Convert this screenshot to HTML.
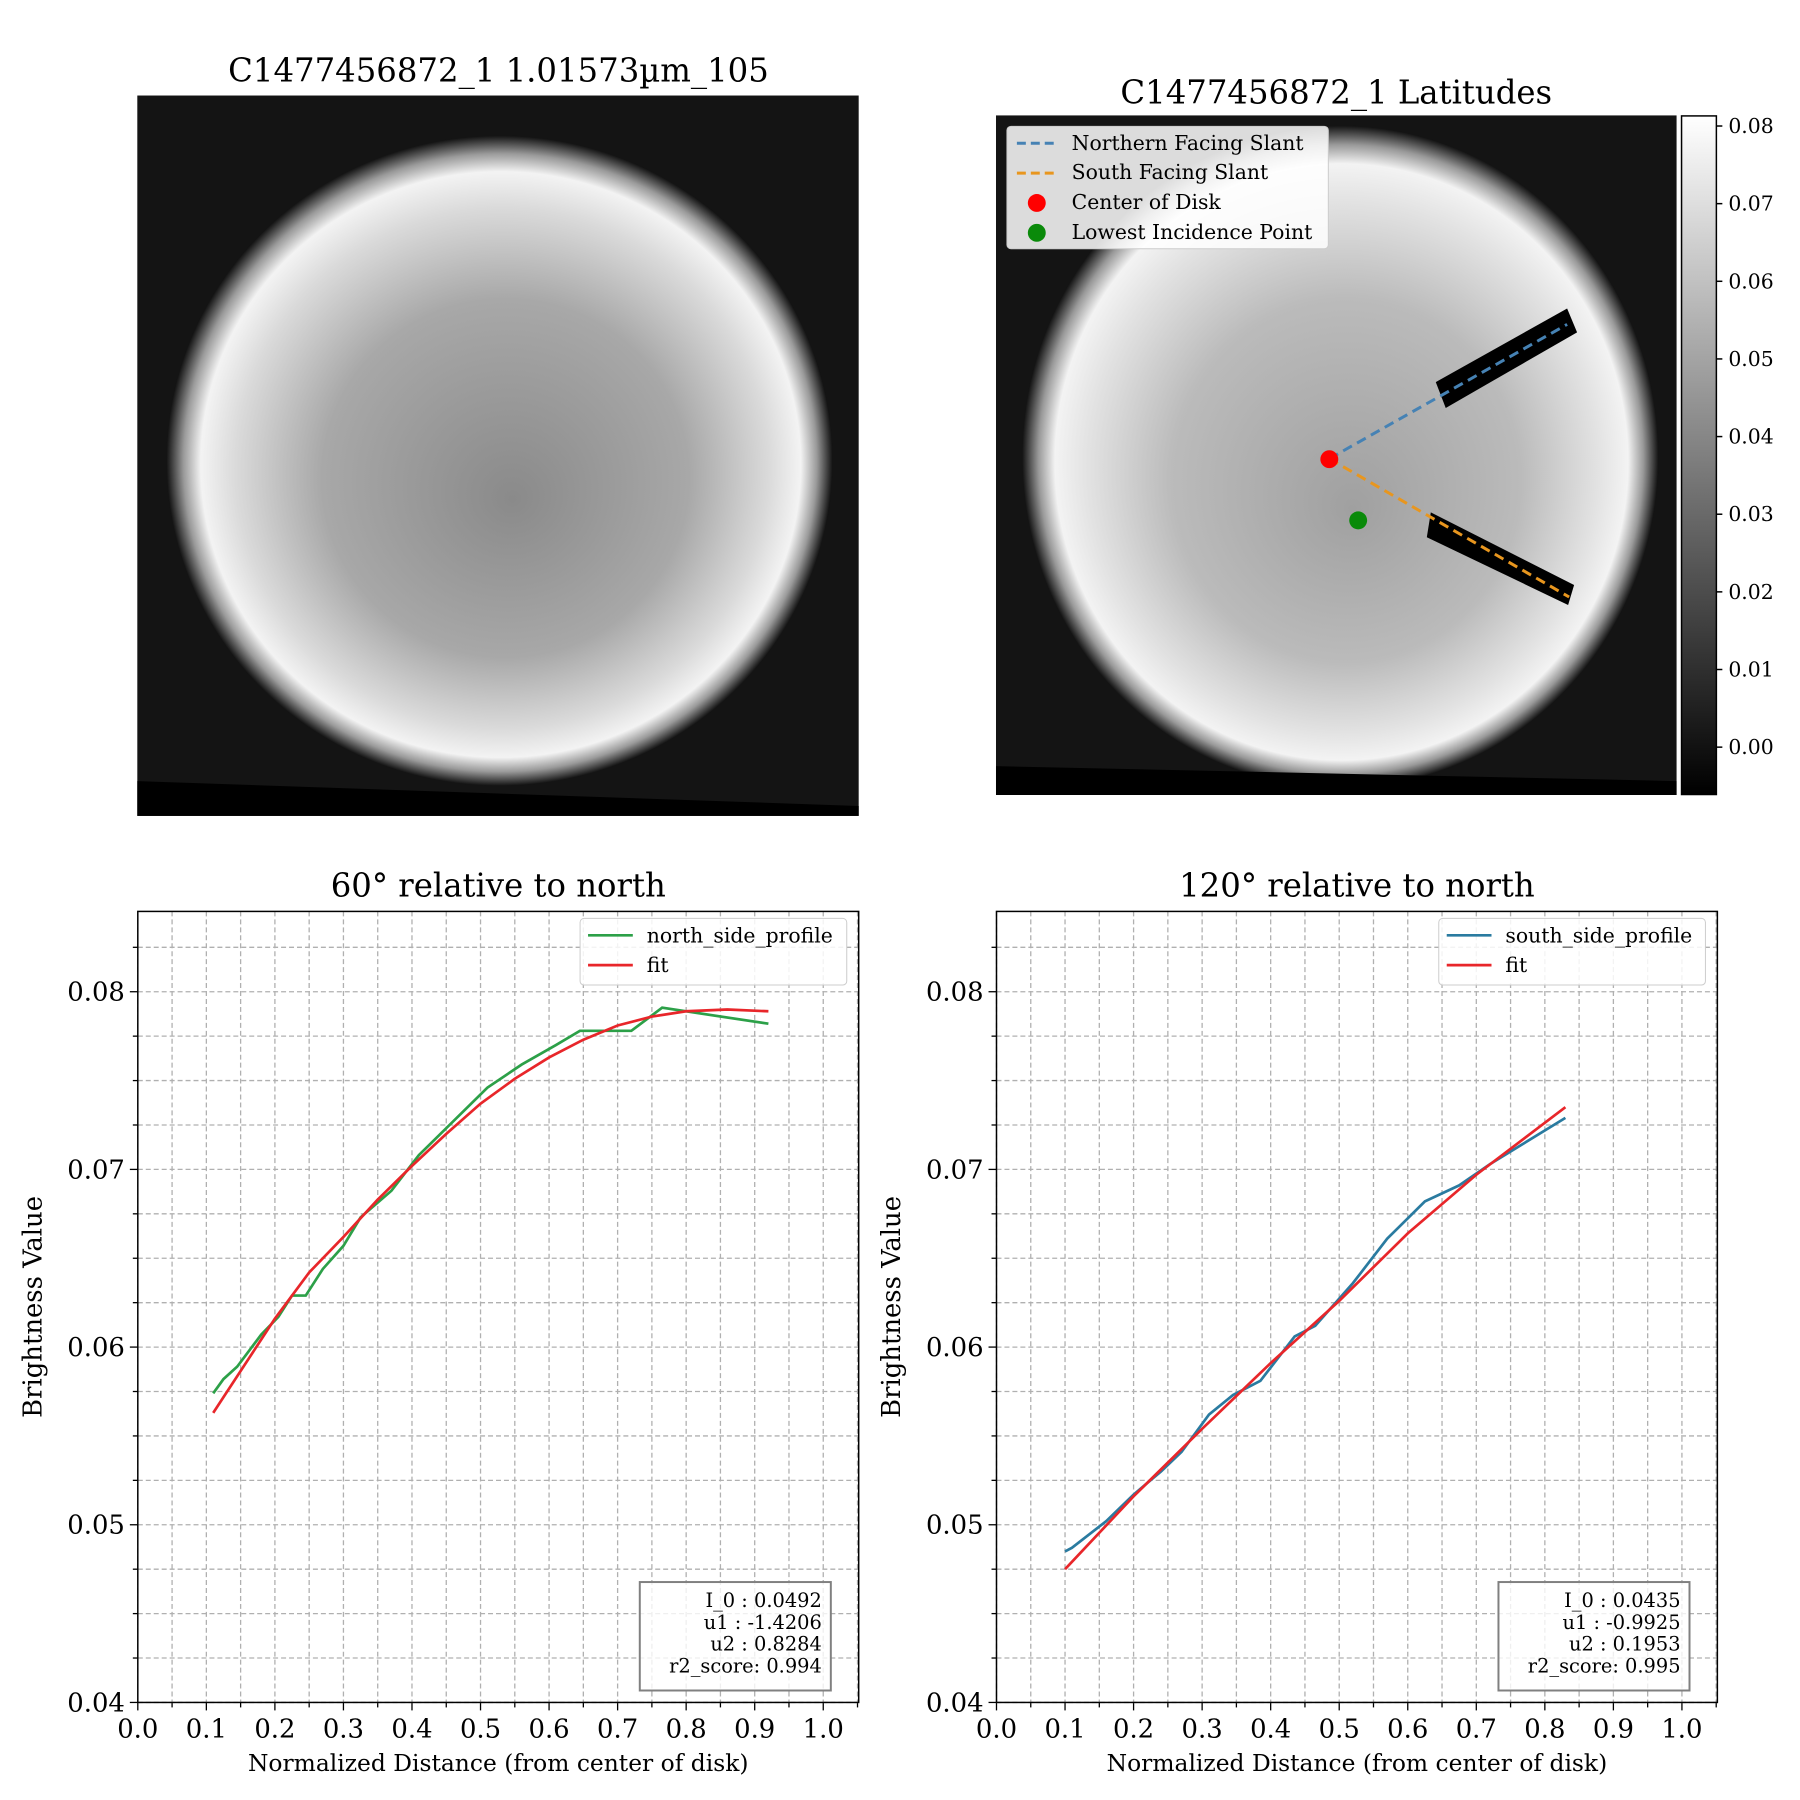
<!DOCTYPE html>
<html><head><meta charset="utf-8"><style>
body{margin:0;background:#fff}
svg{display:block;font-family:"DejaVu Serif","Liberation Serif",serif}
</style></head><body>
<svg id="s" width="1800" height="1800" viewBox="0 0 1800 1800" xmlns="http://www.w3.org/2000/svg">
<defs>
<radialGradient id="disk1" cx="0.5" cy="0.5" r="0.5" fx="0.52" fy="0.56">
<stop offset="0" stop-color="#8a8a8a"/><stop offset="0.55" stop-color="#a8a8a8"/><stop offset="0.8" stop-color="#dadada"/><stop offset="0.9" stop-color="#f3f3f3"/><stop offset="0.95" stop-color="#9a9a9a"/><stop offset="1" stop-color="#111"/>
</radialGradient>
<radialGradient id="disk2" cx="0.5" cy="0.5" r="0.5" fx="0.52" fy="0.58">
<stop offset="0" stop-color="#a0a0a0"/><stop offset="0.55" stop-color="#bbbbbb"/><stop offset="0.8" stop-color="#e2e2e2"/><stop offset="0.9" stop-color="#f3f3f3"/><stop offset="0.95" stop-color="#999"/><stop offset="1" stop-color="#111"/>
</radialGradient>
<linearGradient id="cbar" x1="0" y1="1" x2="0" y2="0"><stop offset="0" stop-color="#000"/><stop offset="1" stop-color="#fff"/></linearGradient>
</defs>
<g transform="scale(0.995)">
<text x="501" y="82" font-size="32.5" text-anchor="middle">C1477456872_1 1.01573µm_105</text>
<g>
<rect x="138" y="96" width="725" height="724" fill="#141414"/>
<ellipse cx="502" cy="463" rx="335" ry="327" fill="url(#disk1)"/>
<polygon points="138,785 863,810 863,820 138,820" fill="#000"/>
</g>
<text x="1343" y="104" font-size="32.5" text-anchor="middle">C1477456872_1 Latitudes</text>
<g>
<rect x="1001" y="116" width="684" height="683" fill="#141414"/>
<ellipse cx="1347" cy="459" rx="320" ry="333" fill="url(#disk2)"/>
<polygon points="1001,770 1685,785 1685,799 1001,799" fill="#000"/>
<path d="M1443,384 L1575,310 L1585,334 L1453,410 Z" fill="#000"/>
<path d="M1438,515 L1582,588 L1576,608 L1434,540 Z" fill="#000"/>
<line x1="1336" y1="461" x2="1575" y2="326" stroke="#4682b4" stroke-width="3" stroke-dasharray="10,6"/>
<line x1="1336" y1="461" x2="1577" y2="600" stroke="#e8961e" stroke-width="3" stroke-dasharray="10,6"/>
<circle cx="1336" cy="461.5" r="9" fill="#ff0000"/>
<circle cx="1365" cy="523" r="9" fill="#0a8a0a"/>
</g>
<g>
<rect x="1012" y="127" width="323" height="123" rx="4" fill="#fff" fill-opacity="0.85" stroke="#ccc"/>
<line x1="1022" y1="144" x2="1062" y2="144" stroke="#4682b4" stroke-width="3" stroke-dasharray="9,5"/>
<text x="1077" y="151" font-size="20.5">Northern Facing Slant</text>
<line x1="1022" y1="174" x2="1062" y2="174" stroke="#e8961e" stroke-width="3" stroke-dasharray="9,5"/>
<text x="1077" y="180" font-size="20.5">South Facing Slant</text>
<circle cx="1042" cy="204" r="9" fill="#ff0000"/>
<text x="1077" y="210" font-size="20.5">Center of Disk</text>
<circle cx="1042" cy="234" r="9" fill="#0a8a0a"/>
<text x="1077" y="240" font-size="20.5">Lowest Incidence Point</text>
</g>
<g id="cb">
<rect x="1690" y="116.5" width="35" height="682" fill="url(#cbar)" stroke="#000" stroke-width="1.5"/>
</g>
<g id="charts"></g>
</g>
</svg>
<script>
const NS="http://www.w3.org/2000/svg";
const cbTicks=[0.00,0.01,0.02,0.03,0.04,0.05,0.06,0.07,0.08];
const northX=[0.11,0.125,0.145,0.18,0.205,0.225,0.245,0.27,0.30,0.325,0.37,0.41,0.46,0.51,0.56,0.61,0.645,0.72,0.765,0.92];
const northY=[0.0574,0.0582,0.0589,0.0607,0.0617,0.0629,0.0629,0.0644,0.0657,0.0673,0.0688,0.0708,0.0727,0.0746,0.0759,0.0770,0.0778,0.0778,0.0791,0.0782];
const northFitX=[0.11,0.2,0.25,0.3,0.35,0.4,0.45,0.5,0.55,0.6,0.65,0.7,0.75,0.8,0.86,0.92];
const northFitY=[0.0563,0.0616,0.0642,0.0662,0.0683,0.0702,0.0720,0.0737,0.0751,0.0763,0.0773,0.0781,0.0786,0.0789,0.0790,0.0789];
const southX=[0.10,0.11,0.16,0.20,0.24,0.27,0.31,0.345,0.385,0.435,0.465,0.52,0.57,0.625,0.675,0.72,0.83];
const southY=[0.0485,0.0487,0.0502,0.0517,0.0530,0.0541,0.0562,0.0573,0.0581,0.0606,0.0612,0.0636,0.0661,0.0682,0.0691,0.0703,0.0729];
const southFitX=[0.1,0.2,0.3,0.4,0.5,0.6,0.7,0.83];
const southFitY=[0.0475,0.0516,0.0554,0.0591,0.0626,0.0664,0.0697,0.0735];
const xTicks=[0.0,0.1,0.2,0.3,0.4,0.5,0.6,0.7,0.8,0.9,1.0];
const yTicks=[0.04,0.05,0.06,0.07,0.08];
const northStats=["I_0 : 0.0492","u1 : -1.4206","u2 : 0.8284","r2_score: 0.994"];
const southStats=["I_0 : 0.0435","u1 : -0.9925","u2 : 0.1953","r2_score: 0.995"];

function mk(tag,attrs,parent,txt){const e=document.createElementNS(NS,tag);for(const k in attrs)e.setAttribute(k,attrs[k]);if(txt!==undefined)e.textContent=txt;parent.appendChild(e);return e;}

const cb=document.getElementById('cb');
const cbY=v=>798.5-(v-(-0.0061))/(0.0813+0.0061)*682;
cbTicks.forEach(v=>{
  const y=cbY(v);
  mk('line',{x1:1725,x2:1731,y1:y,y2:y,stroke:'#000','stroke-width':1.5},cb);
  const t=mk('text',{x:1737,y:y+7,'font-size':20.5},cb,v.toFixed(2));
  
  
});

function chart(x0,name,title,xs,ys,color,fx,fy,legendLabel,stats){
  const L=x0,R=x0+724.5,T=916,B=1711;
  const xmin=0,xmax=1.0517,ymin=0.04,ymax=0.08452;
  const sx=v=>L+(v-xmin)/(xmax-xmin)*(R-L);
  const sy=v=>B-(v-ymin)/(ymax-ymin)*(B-T);
  const g=mk('g',{},document.getElementById('charts'));
  
  
  mk('rect',{x:L,y:T,width:R-L,height:B-T,fill:'#fff'},g);
  for(let i=0;i<=21;i++){const v=i*0.05;if(v>xmax)break;const x=sx(v);
    mk('line',{x1:x,x2:x,y1:T,y2:B,stroke:'#b0b0b0','stroke-width':1.3,'stroke-dasharray':'5,3'},g);
    mk('line',{x1:x,x2:x,y1:B,y2:B+(i%2?5:8),stroke:'#000','stroke-width':1.3},g);}
  for(let i=0;i<=18;i++){const v=0.04+i*0.0025;if(v>ymax)break;const y=sy(v);
    mk('line',{x1:L,x2:R,y1:y,y2:y,stroke:'#b0b0b0','stroke-width':1.3,'stroke-dasharray':'5,3'},g);
    mk('line',{x1:L,x2:L-(i%4?5:8),y1:y,y2:y,stroke:'#000','stroke-width':1.3},g);}
  xTicks.forEach(v=>{const t=mk('text',{x:sx(v),y:B+35,'font-size':26,'text-anchor':'middle'},g,v.toFixed(1));
    });
  yTicks.forEach(v=>{const t=mk('text',{x:L-13,y:sy(v)+9,'font-size':26,'text-anchor':'end'},g,v.toFixed(2));
    });
  const tt=mk('text',{x:(L+R)/2,y:T-15,'font-size':32.5,'text-anchor':'middle'},g,title);
  
  const xl=mk('text',{x:(L+R)/2,y:1780,'font-size':23.5,'text-anchor':'middle'},g,'Normalized Distance (from center of disk)');
  
  const yl=mk('text',{x:0,y:0,'font-size':26,'text-anchor':'middle',transform:`translate(${L-97},${(T+B)/2}) rotate(-90)`},g,'Brightness Value');
  
  const p1=mk('polyline',{points:xs.map((v,i)=>sx(v)+','+sy(ys[i])).join(' '),fill:'none',stroke:color,'stroke-width':2.7},g);
  
  const p2=mk('polyline',{points:fx.map((v,i)=>sx(v)+','+sy(fy[i])).join(' '),fill:'none',stroke:'#e8262a','stroke-width':2.7},g);
  
  mk('rect',{x:L,y:T,width:R-L,height:B-T,fill:'none',stroke:'#000','stroke-width':1.5},g);
  const lg=mk('g',{},g);
  
  mk('rect',{x:R-280,y:923,width:268,height:67,rx:4,fill:'#fff','fill-opacity':0.85,stroke:'#ccc'},lg);
  mk('line',{x1:R-272,x2:R-227,y1:940,y2:940,stroke:color,'stroke-width':2.7},lg);
  mk('text',{x:R-213,y:947,'font-size':20.5},lg,legendLabel);
  mk('line',{x1:R-272,x2:R-227,y1:970,y2:970,stroke:'#e8262a','stroke-width':2.7},lg);
  mk('text',{x:R-213,y:977,'font-size':20.5},lg,'fit');
  const sb=mk('g',{},g);
  
  mk('rect',{x:R-220,y:1590,width:192,height:109,fill:'#fff','fill-opacity':0.8,stroke:'#808080','stroke-width':2},sb);
  stats.forEach((s,i)=>mk('text',{x:R-37,y:1615+i*22,'font-size':19.5,'text-anchor':'end'},sb,s));
}
chart(138.5,'north-profile-chart','60° relative to north',northX,northY,'#2ca048',northFitX,northFitY,'north_side_profile',northStats);
chart(1001.5,'south-profile-chart','120° relative to north',southX,southY,'#2a7ba0',southFitX,southFitY,'south_side_profile',southStats);
</script>
</body></html>
